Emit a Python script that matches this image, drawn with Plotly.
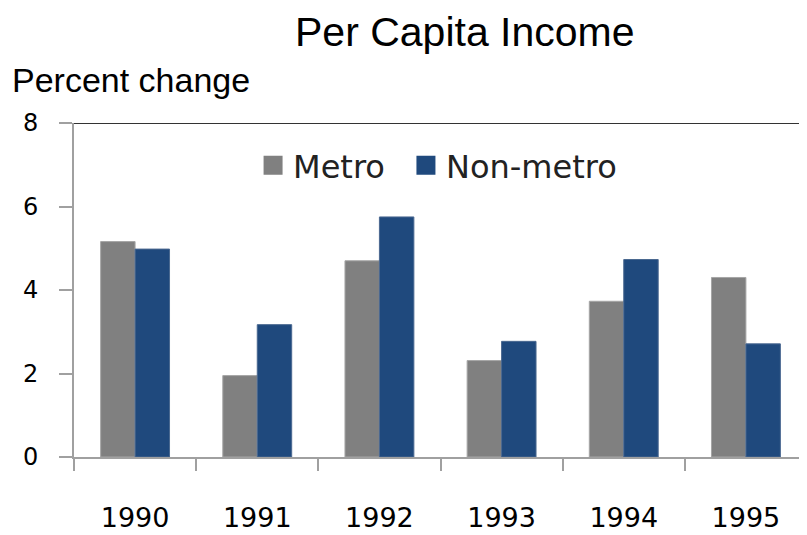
import plotly.graph_objects as go

years = ["1990", "1991", "1992", "1993", "1994", "1995"]
metro = [5.16, 1.95, 4.70, 2.31, 3.73, 4.30]
nonmetro = [4.98, 3.17, 5.75, 2.77, 4.73, 2.71]
y_ticks = [0, 2, 4, 6, 8]

GRAY = "#808080"
BLUE = "#1F497D"
TICK_FONT = "DejaVu Sans"

fig = go.Figure()
fig.add_trace(go.Bar(name="Metro", x=years, y=metro, showlegend=False,
                     marker=dict(color=GRAY, line=dict(color="#a6a6a6", width=1))))
fig.add_trace(go.Bar(name="Non-metro", x=years, y=nonmetro, showlegend=False,
                     marker=dict(color=BLUE, line=dict(color="#4a6890", width=1))))
# legend entries with larger square swatches
fig.add_trace(go.Scatter(name="Metro\u2002", x=[years[0]], y=[None], mode="markers",
                         marker=dict(symbol="square", size=16, color=GRAY, line=dict(color=GRAY, width=3))))
fig.add_trace(go.Scatter(name="Non-metro", x=[years[0]], y=[None], mode="markers",
                         marker=dict(symbol="square", size=16, color=BLUE, line=dict(color=BLUE, width=3))))

# page body has an 8px margin, so the figure is 8px smaller and shifted
fig.update_layout(
    width=799, height=527,
    margin=dict(l=66, r=0, t=115, b=78, autoexpand=False),
    paper_bgcolor="white", plot_bgcolor="white",
    barmode="group", bargap=0.436, bargroupgap=0,
    showlegend=True,
    legend=dict(orientation="h", x=0.496, xanchor="center", y=0.955, yanchor="top",
                font=dict(family=TICK_FONT, size=32, color="#222"),
                itemwidth=30, traceorder="normal", bgcolor="rgba(0,0,0,0)"),
    xaxis=dict(showline=True, linecolor="#a0a0a0", linewidth=2, ticks="outside", tickson="boundaries",
               ticklen=12, tickcolor="#a0a0a0", tickwidth=2, ticklabelstandoff=36, automargin=False,
               tickfont=dict(family=TICK_FONT, size=27, color="black"), showgrid=False),
    yaxis=dict(range=[0, 8], tickvals=y_ticks, showline=True, linecolor="#a0a0a0", linewidth=2,
               ticks="outside", ticklen=13, tickcolor="#a0a0a0", tickwidth=2, ticklabelstandoff=16,
               automargin=False,
               tickfont=dict(family=TICK_FONT, size=24, color="black"), showgrid=False, zeroline=False),
    annotations=[
        dict(text="Per Capita Income", xref="paper", yref="paper", x=0.5334, y=1.272,
             xanchor="center", yanchor="middle", showarrow=False,
             font=dict(family="Liberation Sans", size=41, color="black")),
        dict(text="Percent change", xref="paper", yref="paper", x=-0.0873, y=1.13,
             xanchor="left", yanchor="middle", showarrow=False,
             font=dict(family="Liberation Sans", size=34, color="black")),
    ],
    shapes=[dict(type="line", xref="paper", yref="y", x0=0, x1=1, y0=8, y1=8,
                 line=dict(color="#333333", width=2))],
)

fig.write_html("out.html")
